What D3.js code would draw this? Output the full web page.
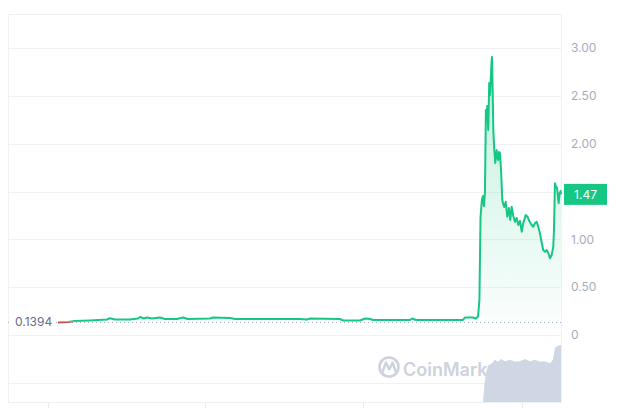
<!DOCTYPE html>
<html>
<head>
<meta charset="utf-8">
<script src="https://cdn.jsdelivr.net/npm/d3@7/dist/d3.min.js"></script>
<style>
  html, body { margin: 0; padding: 0; background: #ffffff; }
  svg { display: block; font-family: Inter, "Noto Sans", sans-serif; }
</style>
</head>
<body>
<svg id="chart" width="630" height="408"></svg>
<script>
// ---------------- DATA ----------------
const days = [0, 7.3, 12.3, 23.2, 35.6, 37.7, 41.4, 52.2, 58.0, 59.5, 62.4, 64.6, 68.2, 74.0, 77.6, 86.3, 90.7, 94.3,
  110.3, 112.5, 124.8, 128.4, 153.8, 175.6, 180.7, 182.9, 204.6, 206.8, 219.1, 222.8, 226.4, 228.6, 255.4, 256.9, 259.8,
  293.9, 295.3, 301.1, 303.3, 304.8,
  305.8, 306.6, 307.6, 308.4, 309.1, 309.8, 310.5, 311.0, 311.5, 312.2, 312.9, 313.5, 314.0, 314.6, 314.9, 315.4, 315.9,
  316.6, 317.3, 318.3, 318.9, 319.5, 320.0, 320.7, 321.5, 322.4, 323.1, 323.8, 324.9, 326.0, 327.2, 328.2, 329.2, 330.4,
  331.6, 332.8, 334.0, 335.2, 336.5, 337.6, 339.4, 340.8, 342.3, 343.7, 344.9, 346.1, 347.3, 348.5, 349.7, 350.9, 352.1,
  353.4, 354.6, 355.8, 357.0, 358.2, 359.4, 359.9, 360.6, 361.4, 362.1, 363.3, 364.0, 364.7, 365.0];
const prices = [0.131, 0.136, 0.146, 0.152, 0.162, 0.176, 0.162, 0.162, 0.172, 0.188, 0.172, 0.183, 0.172, 0.183, 0.167, 0.167, 0.183, 0.167,
  0.172, 0.183, 0.178, 0.167, 0.167, 0.167, 0.162, 0.172, 0.167, 0.152, 0.152, 0.172, 0.167, 0.157, 0.157, 0.172, 0.157,
  0.157, 0.183, 0.183, 0.172, 0.193,
  0.366, 1.233, 1.411, 1.453, 1.348, 1.484, 2.352, 2.247, 2.394, 2.143, 2.634, 2.509, 2.665, 2.854, 2.906, 2.561, 2.143,
  1.934, 1.798, 1.934, 1.850, 1.829, 1.913, 1.902, 1.725, 1.411, 1.369, 1.338, 1.393, 1.237, 1.327, 1.202, 1.341, 1.244,
  1.184, 1.223, 1.150, 1.192, 1.080, 1.168, 1.254, 1.233, 1.184, 1.150, 1.132, 1.168, 1.184, 1.132, 1.063, 0.975, 0.888,
  0.871, 0.888, 0.854, 0.802, 0.836, 0.923, 1.098, 1.586, 1.550, 1.537, 1.377, 1.481, 1.505, 1.470];

const volDays = [308.4, 309.4, 310.5, 312.0, 314.9, 317.1, 319.3, 321.5, 324.3, 328.0, 331.6, 335.2, 338.9, 342.5, 346.1,
  349.7, 353.4, 357.0, 359.2, 360.6, 362.8, 365.0];
const volumes = [0, 25, 43, 54, 58, 63, 60, 64, 61, 63, 60, 61, 64, 61, 63, 60, 61, 58, 63, 81, 84, 85];

const priceTicks = [0, 0.5, 1.0, 1.5, 2.0, 2.5, 3.0];
const priceTickLabels = ["0", "0.50", "1.00", "1.50", "2.00", "2.50", "3.00"];
const volTicks = [28];
const timeTicks = [-7.3, 106.7, 221.3, 336.7];
const basePrice = 0.1394;
const basePriceLabel = "0.1394";
const lastPriceLabel = "1.47";
const lastPrice = 1.47;
const watermarkText = "CoinMarketCap";

// ---------------- LAYOUT ----------------
const frame = { left: 8, right: 561, top: 14, bottom: 402 };
const pricePane = { top: 48, bottom: 335 };
const GREEN = "#16c784", RED = "#c0504a", GRID = "#eff2f5";

const svg = d3.select("#chart");
const x = d3.scaleLinear().domain([0, 365]).range([58, 561]);
const y = d3.scaleLinear().domain([0, 3]).range([pricePane.bottom, pricePane.top]);
const yv = d3.scaleLinear().domain([0, 100]).range([frame.bottom, pricePane.bottom]);

const data = days.map((d, i) => ({ d, p: prices[i] }));
const vdata = volDays.map((d, i) => ({ d, v: volumes[i] }));

const defs = svg.append("defs");
const grad = defs.append("linearGradient").attr("id", "fillGrad")
  .attr("gradientUnits", "userSpaceOnUse").attr("x1", 0).attr("x2", 0)
  .attr("y1", y(3)).attr("y2", y(basePrice));
grad.append("stop").attr("offset", 0).attr("stop-color", GREEN).attr("stop-opacity", 0.28);
grad.append("stop").attr("offset", 1).attr("stop-color", GREEN).attr("stop-opacity", 0.02);

defs.append("clipPath").attr("id", "above").append("rect")
  .attr("x", 0).attr("y", 0).attr("width", 630).attr("height", y(basePrice));
defs.append("clipPath").attr("id", "below").append("rect")
  .attr("x", 0).attr("y", y(basePrice)).attr("width", 630).attr("height", 100);

// grid lines
svg.append("g").selectAll("line").data(priceTicks).join("line")
  .attr("x1", frame.left).attr("x2", frame.right)
  .attr("y1", d => Math.round(y(d)) + 0.5).attr("y2", d => Math.round(y(d)) + 0.5)
  .attr("stroke", GRID).attr("stroke-width", 1);
svg.append("g").selectAll("line").data(volTicks).join("line")
  .attr("x1", frame.left).attr("x2", frame.right)
  .attr("y1", d => Math.round(yv(d)) + 0.5).attr("y2", d => Math.round(yv(d)) + 0.5)
  .attr("stroke", GRID).attr("stroke-width", 1);

// frame
svg.append("rect")
  .attr("x", frame.left + 0.5).attr("y", frame.top + 0.5)
  .attr("width", frame.right - frame.left).attr("height", frame.bottom - frame.top)
  .attr("fill", "none").attr("stroke", GRID).attr("stroke-width", 1);

// bottom time ticks (labels fall outside the window)
svg.append("g").selectAll("line").data(timeTicks).join("line")
  .attr("x1", d => Math.round(x(d)) + 0.5).attr("x2", d => Math.round(x(d)) + 0.5)
  .attr("y1", frame.bottom + 1).attr("y2", frame.bottom + 7)
  .attr("stroke", "#e8ebf0");

// watermark
const wm = svg.append("g").attr("fill", "none").attr("stroke", "#cdd2dc");
wm.append("circle").attr("cx", 389).attr("cy", 367).attr("r", 9.5).attr("stroke-width", 2.6);
wm.append("path").attr("d", "M382.5,372 L386,362.5 L389.3,369.5 L392.6,362.5 L395.5,371")
  .attr("stroke-width", 2.4).attr("stroke-linejoin", "round").attr("stroke-linecap", "round");
svg.append("text").attr("x", 403).attr("y", 376)
  .attr("font-size", 18).attr("font-weight", 600).attr("fill", "#cdd2dc")
  .text(watermarkText);

// volume area
svg.append("path").datum(vdata)
  .attr("d", d3.area().x(d => x(d.d)).y0(yv(0)).y1(d => yv(d.v)).curve(d3.curveLinear))
  .attr("fill", "#cfd6e4");

// price fill (between line and baseline)
svg.append("path").datum(data)
  .attr("clip-path", "url(#above)")
  .attr("d", d3.area().x(d => x(d.d)).y0(y(basePrice)).y1(d => y(d.p)))
  .attr("fill", "url(#fillGrad)");

// baseline dotted
svg.append("line")
  .attr("x1", frame.left).attr("x2", frame.right)
  .attr("y1", Math.round(y(basePrice)) + 0.5).attr("y2", Math.round(y(basePrice)) + 0.5)
  .attr("stroke", "#a6b0c3").attr("stroke-width", 1).attr("stroke-dasharray", "1,3");

// price line
const line = d3.line().x(d => x(d.d)).y(d => y(d.p));
svg.append("path").datum(data).attr("d", line).attr("clip-path", "url(#above)")
  .attr("fill", "none").attr("stroke", GREEN).attr("stroke-width", 2).attr("stroke-linejoin", "round");
svg.append("path").datum(data).attr("d", line).attr("clip-path", "url(#below)")
  .attr("fill", "none").attr("stroke", RED).attr("stroke-width", 2).attr("stroke-linejoin", "round");

// right axis labels (the one hidden behind the last-price tag is not drawn)
const ly = y(lastPrice);
svg.append("g").selectAll("text")
  .data(priceTicks.map((d, i) => ({ d, t: priceTickLabels[i] })).filter(o => Math.abs(y(o.d) - ly) > 14))
  .join("text")
  .attr("x", 571).attr("y", o => y(o.d)).attr("dy", "0.35em")
  .attr("font-size", 12).attr("fill", "#a6adbb")
  .text(o => o.t);

// last price tag
svg.append("rect").attr("x", 564).attr("y", ly - 10.5).attr("width", 43).attr("height", 21).attr("fill", GREEN);
svg.append("text").attr("x", 585.5).attr("y", ly).attr("dy", "0.35em").attr("text-anchor", "middle")
  .attr("font-size", 12).attr("fill", "#ffffff").text(lastPriceLabel);

// base price label
const by = y(basePrice);
svg.append("rect").attr("x", 12).attr("y", by - 8).attr("width", 44).attr("height", 16).attr("fill", "#ffffff");
svg.append("text").attr("x", 15).attr("y", by).attr("dy", "0.35em")
  .attr("font-size", 12).attr("fill", "#616e85").text(basePriceLabel);
</script>
</body>
</html>
